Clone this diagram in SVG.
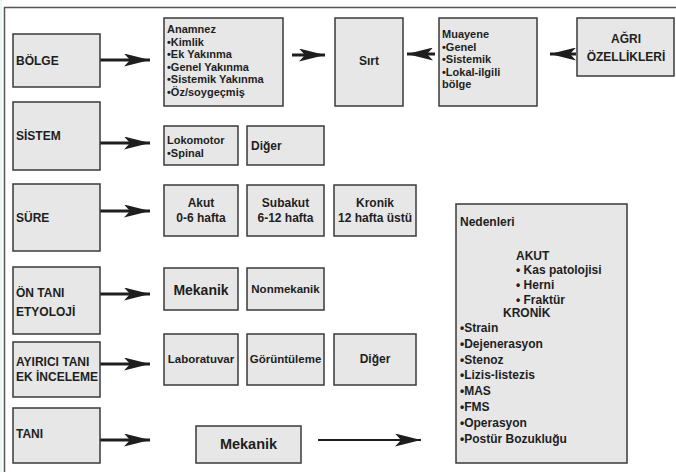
<svg xmlns="http://www.w3.org/2000/svg" width="676" height="472" viewBox="0 0 676 472">
<style>
.box{fill:#e7e7e7;stroke:#3a3a3a;stroke-width:1.5}
text{font-family:"Liberation Sans",Arial,sans-serif;font-weight:bold;font-size:12px;fill:#1e1e1e}
.c{text-anchor:middle}
.l{font-size:11px}
.arr{stroke:#1e1e1e;stroke-width:3;fill:none}
.thin{stroke:#1e1e1e;stroke-width:2.2;fill:none}
</style>
<defs>
<marker id="ah" viewBox="0 0 26 13" refX="26" refY="6.5" markerWidth="26" markerHeight="13" markerUnits="userSpaceOnUse" orient="auto">
<path d="M0,0 L26,6.5 L0,13 L6,6.5 z" fill="#1e1e1e"/>
</marker>
</defs>
<rect width="676" height="472" fill="#ffffff"/>
<line x1="1" y1="0" x2="1" y2="472" stroke="#d6f0f2" stroke-width="1"/>
<path d="M4.5,472 L4.5,7.5 L676,7.5" fill="none" stroke="#555" stroke-width="1.5"/>

<g id="connectors">
<line class="arr" x1="100" y1="60" x2="150" y2="60" marker-end="url(#ah)"/>
<line class="arr" x1="292" y1="55" x2="325" y2="55" marker-end="url(#ah)"/>
<line class="arr" x1="435" y1="54" x2="407" y2="54" marker-end="url(#ah)"/>
<line class="arr" x1="576" y1="54" x2="550" y2="54" marker-end="url(#ah)"/>
<line class="arr" x1="100" y1="143" x2="150" y2="143" marker-end="url(#ah)"/>
<line class="arr" x1="100" y1="211" x2="150" y2="211" marker-end="url(#ah)"/>
<line class="arr" x1="100" y1="294" x2="150" y2="294" marker-end="url(#ah)"/>
<line class="arr" x1="100" y1="364" x2="150" y2="364" marker-end="url(#ah)"/>
<line class="arr" x1="100" y1="440" x2="150" y2="440" marker-end="url(#ah)"/>
<line class="thin" x1="318" y1="440" x2="421" y2="440" marker-end="url(#ah)"/>
</g>

<g id="bolge"><rect class="box" x="13" y="34" width="87" height="53"/><text x="16" y="65">BÖLGE</text></g>
<g id="sistem"><rect class="box" x="13" y="102" width="87" height="68"/><text x="16" y="140">SİSTEM</text></g>
<g id="sure"><rect class="box" x="13" y="184" width="87" height="67"/><text x="16" y="222">SÜRE</text></g>
<g id="ontani"><rect class="box" x="13" y="267" width="87" height="67"/><text x="16" y="297">ÖN TANI</text><text x="16" y="316">ETYOLOJİ</text></g>
<g id="ayirici"><rect class="box" x="13" y="342" width="87" height="55"/><text x="16" y="366">AYIRICI TANI</text><text x="16" y="381">EK İNCELEME</text></g>
<g id="tani"><rect class="box" x="13" y="408" width="87" height="55"/><text x="16" y="438">TANI</text></g>

<g id="anamnez"><rect class="box" x="164" y="18" width="119" height="88"/>
<text class="l" x="167" y="33">Anamnez</text>
<text class="l" x="167" y="45.5">•Kimlik</text>
<text class="l" x="167" y="58">•Ek Yakınma</text>
<text class="l" x="167" y="70.5">•Genel Yakınma</text>
<text class="l" x="167" y="83">•Sistemik Yakınma</text>
<text class="l" x="167" y="95.5">•Öz/soygeçmiş</text></g>
<g id="sirt"><rect class="box" x="335" y="18" width="68" height="88"/><text class="c" x="369" y="65">Sırt</text></g>
<g id="muayene"><rect class="box" x="439" y="18" width="98" height="88"/>
<text class="l" x="442" y="38">Muayene</text>
<text class="l" x="442" y="50.5">•Genel</text>
<text class="l" x="442" y="63">•Sistemik</text>
<text class="l" x="442" y="75.5">•Lokal-ilgili</text>
<text class="l" x="442" y="88">bölge</text></g>
<g id="agri"><rect class="box" x="577" y="18" width="97" height="58"/>
<text class="c" x="626" y="43">AĞRI</text><text class="c" x="626" y="61">ÖZELLİKLERİ</text></g>

<g id="lokomotor"><rect class="box" x="164" y="126" width="74" height="39"/><text class="l" x="167" y="144">Lokomotor</text><text class="l" x="167" y="157">•Spinal</text></g>
<g id="diger1"><rect class="box" x="247" y="126" width="77" height="39"/><text x="251" y="150">Diğer</text></g>

<g id="akut"><rect class="box" x="164" y="185" width="74" height="51"/><text class="c" x="201" y="207">Akut</text><text class="c" x="201" y="222">0-6 hafta</text></g>
<g id="subakut"><rect class="box" x="247" y="185" width="77" height="51"/><text class="c" x="285.5" y="207">Subakut</text><text class="c" x="285.5" y="222">6-12 hafta</text></g>
<g id="kronik"><rect class="box" x="334" y="185" width="82" height="51"/><text class="c" x="375" y="207">Kronik</text><text class="c" x="375" y="222">12 hafta üstü</text></g>

<g id="mekanik1"><rect class="box" x="164" y="268" width="74" height="42"/><text class="c" x="201" y="295" style="font-size:14px">Mekanik</text></g>
<g id="nonmekanik"><rect class="box" x="247" y="268" width="77" height="42"/><text class="c" x="285.5" y="293" style="font-size:11.5px">Nonmekanik</text></g>

<g id="laboratuvar"><rect class="box" x="164" y="334" width="74" height="51"/><text class="c" x="201" y="363" style="font-size:11.5px">Laboratuvar</text></g>
<g id="goruntuleme"><rect class="box" x="247" y="334" width="77" height="51"/><text class="c" x="285.5" y="363" style="font-size:11.5px">Görüntüleme</text></g>
<g id="diger2"><rect class="box" x="334" y="334" width="82" height="51"/><text class="c" x="375" y="363">Diğer</text></g>

<g id="mekanik2"><rect class="box" x="196" y="426" width="105" height="37"/><text class="c" x="248.5" y="449" style="font-size:14.5px">Mekanik</text></g>

<g id="nedenleri"><rect class="box" x="456" y="204" width="171" height="259"/>
<text x="460" y="226">Nedenleri</text>
<text x="516" y="260">AKUT</text>
<text x="516" y="274">• Kas patolojisi</text>
<text x="516" y="289">• Herni</text>
<text x="516" y="304">• Fraktür</text>
<text x="503" y="317">KRONİK</text>
<text x="460" y="332">•Strain</text>
<text x="460" y="347.8">•Dejenerasyon</text>
<text x="460" y="363.6">•Stenoz</text>
<text x="460" y="379.4">•Lizis-listezis</text>
<text x="460" y="395.2">•MAS</text>
<text x="460" y="411">•FMS</text>
<text x="460" y="426.8">•Operasyon</text>
<text x="460" y="442.6">•Postür Bozukluğu</text></g>
</svg>
